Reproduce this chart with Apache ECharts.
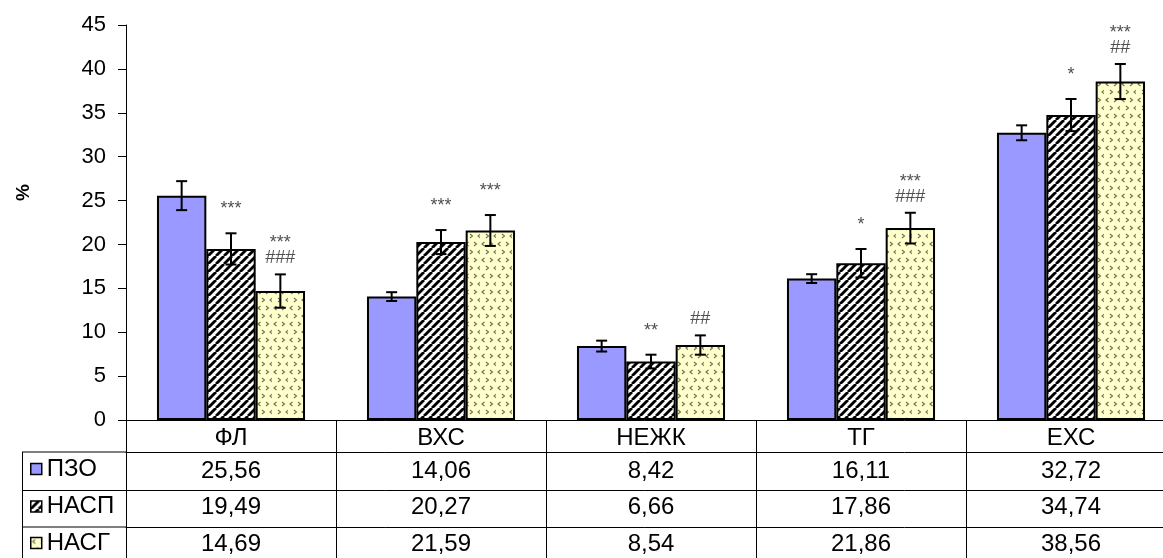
<!DOCTYPE html>
<html>
<head>
<meta charset="utf-8">
<script src="https://cdn.jsdelivr.net/npm/echarts@6/dist/echarts.min.js"></script>
<style>
  html, body { margin: 0; padding: 0; background: #fff; }
  #chart { width: 1163px; height: 558px; }
</style>
</head>
<body>
<div id="chart"></div>
<script>
// Lipid fractions (%) by group
const categories = ['ФЛ', 'ВХС', 'НЕЖК', 'ТГ', 'ЕХС'];
const seriesNames = ['ПЗО', 'НАСП', 'НАСГ'];
const pzo  = [25.56, 14.06, 8.42, 16.11, 32.72];
const nasp = [19.49, 20.27, 6.66, 17.86, 34.74];
const nasg = [14.69, 21.59, 8.54, 21.86, 38.56];
// standard errors
const pzoErr  = [1.65, 0.50, 0.62, 0.50, 0.85];
const naspErr = [1.78, 1.37, 0.78, 1.62, 1.83];
const nasgErr = [1.90, 1.76, 1.10, 1.75, 2.00];
// significance marks, listed top to bottom
const pzoMarks  = [[], [], [], [], []];
const naspMarks = [['***'], ['***'], ['**'], ['*'], ['*']];
const nasgMarks = [['***', '###'], ['***'], ['##'], ['***', '###'], ['***', '##']];
// value axis
const yMin = 0, yMax = 45, yStep = 5;

const FONT = 'Liberation Sans, Arial, sans-serif';
const CAT_GAP = 0.295;

function fmt(v) { return v.toFixed(2).replace('.', ','); }

function hatchCanvas() {
  const s = 8;
  const c = document.createElement('canvas');
  c.width = s; c.height = s;
  const g = c.getContext('2d');
  g.fillStyle = '#fff';
  g.fillRect(0, 0, s, s);
  g.strokeStyle = '#000';
  g.lineWidth = 2.8;
  [-s, 0, s].forEach(o => {
    g.beginPath();
    g.moveTo(o, s);
    g.lineTo(o + s, 0);
    g.stroke();
  });
  return c;
}

function dotsCanvas() {
  const s = 16;
  const c = document.createElement('canvas');
  c.width = s; c.height = s;
  const g = c.getContext('2d');
  g.fillStyle = '#ffffcc';
  g.fillRect(0, 0, s, s);
  g.strokeStyle = '#6e6e5a';
  g.lineWidth = 1.1;
  function chev(x, y, dir) {
    g.beginPath();
    g.moveTo(x + (dir > 0 ? 0 : 2.5), y);
    g.lineTo(x + (dir > 0 ? 2.5 : 0), y + 2);
    g.lineTo(x + (dir > 0 ? 0 : 2.5), y + 4);
    g.stroke();
  }
  chev(2, 2, -1);
  chev(10, 2, 1);
  chev(6, 10, 1);
  chev(14, 10, -1);
  return c;
}

const fills = [
  '#9999ff',
  { image: hatchCanvas(), repeat: 'repeat' },
  { image: dotsCanvas(), repeat: 'repeat' }
];
const values = [pzo, nasp, nasg];
const errs = [pzoErr, naspErr, nasgErr];
const marks = [pzoMarks, naspMarks, nasgMarks];

function errorRenderer(pos) {
  return function (params, api) {
    const i = api.value(0);
    const v = api.value(1);
    const e = api.value(2);
    const band = api.size([1, 0])[0];
    const barW = band * (1 - CAT_GAP) / 3;
    const cx = api.coord([i, 0])[0] + (pos - 1) * barW;
    const yTop = api.coord([i, v + e])[1];
    const yBot = api.coord([i, v - e])[1];
    const cap = 5.5;
    const st = { stroke: '#000', lineWidth: 2 };
    const children = [
      { type: 'line', shape: { x1: cx, y1: yTop, x2: cx, y2: yBot }, style: st },
      { type: 'line', shape: { x1: cx - cap, y1: yTop, x2: cx + cap, y2: yTop }, style: st },
      { type: 'line', shape: { x1: cx - cap, y1: yBot, x2: cx + cap, y2: yBot }, style: st }
    ];
    const lines = marks[pos][i];
    let y = yTop;
    for (let k = lines.length - 1; k >= 0; k--) {
      const isHash = lines[k].charAt(0) === '#';
      if (k === lines.length - 1) y = yTop - (isHash ? 16 : 24);
      else y = y - 15;
      children.push({
        type: 'text',
        style: {
          text: lines[k], x: cx, y: y,
          align: 'center', verticalAlign: 'middle',
          fill: '#505050', fontSize: 18, fontFamily: FONT
        }
      });
    }
    return { type: 'group', children: children };
  };
}

const barSeries = seriesNames.map((name, k) => ({
  name: name,
  type: 'bar',
  xAxisIndex: 0,
  data: values[k],
  barGap: '0%',
  barCategoryGap: (CAT_GAP * 100) + '%',
  itemStyle: { color: fills[k], borderColor: '#000', borderWidth: 2 },
  emphasis: { disabled: true },
  animation: false,
  z: 2
}));

const errSeries = seriesNames.map((name, k) => ({
  type: 'custom',
  xAxisIndex: 0,
  renderItem: errorRenderer(k),
  data: values[k].map((v, i) => [i, v, errs[k][i]]),
  animation: false,
  silent: true,
  z: 5
}));

const rowOffsets = [32, 70.5, 107];
const rowMargins = [7, 5, 5];
const tableAxes = values.map((vals, k) => ({
  type: 'category',
  data: categories,
  position: 'bottom',
  offset: rowOffsets[k],
  gridIndex: 0,
  axisLine: { show: true, lineStyle: { color: '#000', width: 1 } },
  axisTick: { show: false },
  axisLabel: {
    interval: 0, margin: rowMargins[k], fontSize: 24, color: '#000', fontFamily: FONT,
    formatter: (val, idx) => fmt(vals[idx])
  },
  splitLine: { show: false }
}));

const rowCenters = [469, 506.5, 543];
const legends = seriesNames.map((name, k) => ({
  data: [name],
  left: 30,
  top: rowCenters[k] - 12,
  padding: 0,
  icon: 'rect',
  itemWidth: 11,
  itemHeight: 11,
  itemGap: 0,
  selectedMode: false,
  itemStyle: { borderColor: '#000', borderWidth: 1.5 },
  textStyle: { fontSize: 24, color: '#000', fontFamily: FONT }
}));

const chart = echarts.init(document.getElementById('chart'), null, { renderer: 'canvas' });
chart.setOption({
  animation: false,
  backgroundColor: '#fff',
  textStyle: { fontFamily: FONT },
  legend: legends,
  grid: { left: 126, top: 25, width: 1050, height: 395, outerBoundsMode: 'none', containLabel: false },
  xAxis: [{
    type: 'category',
    data: categories,
    position: 'bottom',
    axisLine: { show: true, lineStyle: { color: '#000', width: 1 } },
    axisTick: { show: true, length: 138, interval: 0, lineStyle: { color: '#000', width: 1 } },
    axisLabel: { interval: 0, margin: 6, fontSize: 24, color: '#000', fontFamily: FONT },
    splitLine: { show: false }
  }].concat(tableAxes),
  yAxis: {
    type: 'value',
    min: yMin, max: yMax, interval: yStep,
    name: '%',
    nameLocation: 'middle',
    nameRotate: 90,
    nameGap: 93,
    nameTextStyle: { fontSize: 19, fontWeight: 'bold', color: '#000', fontFamily: FONT, padding: [0, 0, 0, 60] },
    axisLine: { show: true, lineStyle: { color: '#000', width: 1 } },
    axisTick: { show: true, length: 8, lineStyle: { color: '#000', width: 1 } },
    axisLabel: { fontSize: 22, color: '#000', margin: 20, fontFamily: FONT },
    splitLine: { show: false }
  },
  graphic: [
    { type: 'line', shape: { x1: 22, y1: 452, x2: 126, y2: 452 }, style: { stroke: '#000', lineWidth: 1 } },
    { type: 'line', shape: { x1: 22, y1: 490.5, x2: 126, y2: 490.5 }, style: { stroke: '#000', lineWidth: 1 } },
    { type: 'line', shape: { x1: 22, y1: 527, x2: 126, y2: 527 }, style: { stroke: '#000', lineWidth: 1 } },
    { type: 'line', shape: { x1: 22.5, y1: 452, x2: 22.5, y2: 558 }, style: { stroke: '#000', lineWidth: 1 } }
  ],
  series: barSeries.concat(errSeries)
});
</script>
</body>
</html>
